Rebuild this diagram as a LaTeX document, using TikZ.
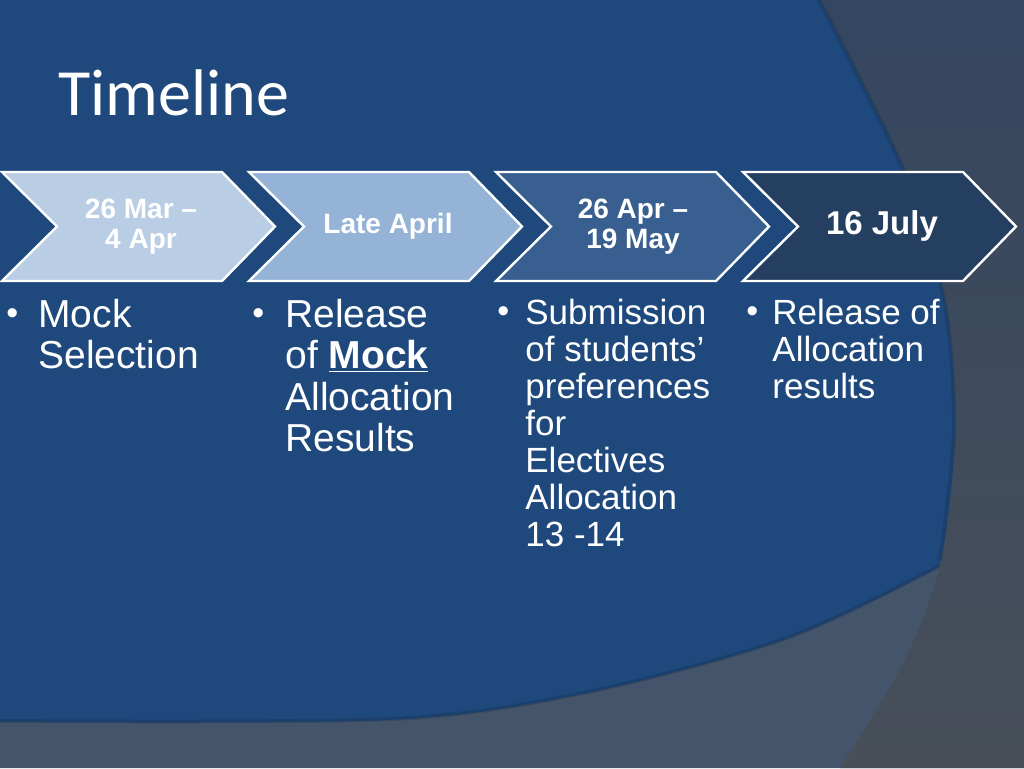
\documentclass[tikz,border=0pt]{standalone}
\usepackage{fontspec}
\setmainfont{Liberation Sans}
\newfontfamily\titlefont{Carlito}
\definecolor{slideblue}{RGB}{31,73,125}
\definecolor{slidegrey}{RGB}{68,85,107}
\definecolor{stripTop}{RGB}{52,70,96}
\definecolor{stripBot}{RGB}{72,79,89}
\definecolor{chevA}{RGB}{185,205,229}
\definecolor{chevB}{RGB}{149,179,215}
\definecolor{chevC}{RGB}{56,95,144}
\definecolor{chevD}{RGB}{37,63,97}
\tikzset{
  chev/.style={draw=white, line width=1.2pt, line join=miter},
  chevtext/.style={text=white, align=center, inner sep=0pt,
    font=\bfseries\fontsize{14}{15}\selectfont},
  bigbullet/.style={text=white, anchor=base west, inner sep=0pt,
    font=\fontsize{19.5}{20.75}\selectfont},
  smallbullet/.style={text=white, anchor=base west, inner sep=0pt,
    font=\fontsize{17.5}{18.5}\selectfont},
  dot/.style={text=white, anchor=base west, inner sep=0pt,
    font=\fontsize{17}{17}\selectfont}
}
\begin{document}
\begin{tikzpicture}[x=0.5pt,y=-0.5pt]
\useasboundingbox (0,0) rectangle (1024,768);

% background
\fill[slideblue] (0,0) rectangle (1024,768);
\fill[slidegrey] plot[smooth] coordinates {(0,722) (392,720) (588,693) (784,640) (928,573) (990,535)}
  -- (1024,535) -- (1024,768) -- (0,768) -- cycle;
\draw[black, opacity=0.12, line width=2pt] plot[smooth] coordinates {(0,721) (392,719) (588,692) (784,639) (928,572) (990,534)};
\shade[top color=stripTop, bottom color=stripBot] plot[smooth] coordinates {(820,0) (903,167) (945,300) (955,430) (941,560) (905,660) (840,768)}
  -- (1024,768) -- (1024,0) -- cycle;
\draw[black, opacity=0.12, line width=2pt] plot[smooth] coordinates {(819,0) (902,167) (944,300) (954,430) (940,560)};

% title
\node[anchor=base west, inner sep=0pt, text=white, font=\titlefont\fontsize{33}{33}\selectfont] (title) at (58,115) {Timeline};

% chevrons
\newcommand{\chevX}{247}
\foreach \i/\col in {0/chevA, 1/chevB, 2/chevC, 3/chevD}{
  \draw[chev, fill=\col] (2+\i*\chevX,172) -- (222+\i*\chevX,172) -- (275+\i*\chevX,226.5)
    -- (222+\i*\chevX,281) -- (2+\i*\chevX,281) -- (57+\i*\chevX,226.5) -- cycle;
}
\node[chevtext] (d1) at (141,227) {26 Mar --\\4 Apr};
\node[chevtext] (d2) at (388,226) {Late April};
\node[chevtext] (d3) at (633,227) {26 Apr --\\19 May};
\node[chevtext, font=\bfseries\fontsize{16.5}{16.5}\selectfont] (d4) at (882,226) {16 July};

% bullets
\node[dot] (b1) at (6,324) {\textbullet};
\node[bigbullet] (t1) at (38,327) {\parbox[t]{200pt}{Mock\\Selection}};
\node[dot] (b2) at (252,324) {\textbullet};
\node[bigbullet] (t2) at (285,327) {\parbox[t]{200pt}{Release\\of \underline{\textbf{Mock}}\\Allocation\\Results}};
\node[dot] (b3) at (497,322) {\textbullet};
\node[smallbullet] (t3) at (525,324) {\parbox[t]{200pt}{Submission\\of students’\\preferences\\for\\Electives\\Allocation\\13 -14}};
\node[dot] (b4) at (746,322) {\textbullet};
\node[smallbullet] (t4) at (772,324) {\parbox[t]{200pt}{Release of\\Allocation\\results}};
\end{tikzpicture}
\end{document}
